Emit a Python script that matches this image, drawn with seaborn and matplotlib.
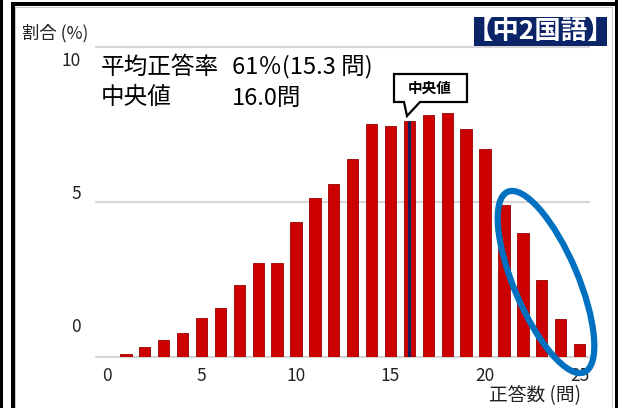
import matplotlib
matplotlib.use('Agg')
import matplotlib.pyplot as plt
import seaborn as sns
import pandas as pd
from matplotlib.patches import Rectangle, Ellipse, PathPatch
from matplotlib.path import Path

# ---- data ----
scores = list(range(1, 26))
pct = [0.10, 0.31, 0.55, 0.78, 1.26, 1.57, 2.31, 3.04, 3.04, 4.35,
       5.13, 5.58, 6.39, 7.52, 7.45, 7.62, 7.81, 7.86, 7.35, 6.70,
       4.90, 3.99, 2.48, 1.23, 0.41]
x_ticks = [0, 5, 10, 15, 20, 25]
y_ticks = [0, 5, 10]
median_score = 16
title = "【中2国語】"
mean_label, mean_value = "平均正答率", "61％(15.3 問)"
median_label, median_value = "中央値", "16.0問"
callout_label = "中央値"
y_axis_label = "割合 (%)"
x_axis_label = "正答数 (問)"

sns.set_theme(style='white')
plt.rcParams['font.family'] = ['Noto Sans CJK JP', 'DejaVu Sans']

W, H = 618, 408
fig = plt.figure(figsize=(W / 100, H / 100), dpi=100)
fig.patch.set_facecolor('white')
T = fig.dpi_scale_trans


def px(x, y):
    return (x / 100, (H - y) / 100)


# ---- axes ----
ax = fig.add_axes([96 / W, (H - 357) / H, (589 - 96) / W, (357 - 47) / H])
df = pd.DataFrame({'score': scores, 'pct': pct})
sns.barplot(data=df, x='score', y='pct', native_scale=True, width=0.6,
            color='#cc0000', saturation=1, edgecolor='#9a0000', linewidth=0.6,
            ax=ax, zorder=3)
ax.set_xlim(-0.58, 25.5)
ax.set_ylim(0, 10)
for s in ax.spines.values():
    s.set_visible(False)
ax.set_xlabel('')
ax.set_ylabel('')
ax.set_facecolor('white')

for v in y_ticks:
    ax.axhline(v, color='#d6d6d6', lw=1.6, zorder=1, clip_on=False)

ax.set_xticks(x_ticks)
ax.set_xticklabels([str(t) for t in x_ticks])
ax.tick_params(axis='x', length=0, pad=7, labelsize=12.5, labelcolor='#222222')
ax.set_yticks([])

# y tick labels (offset as in reference)
y_offsets = {10: -14, 5: 8, 0: 30}
for v in y_ticks:
    ax.annotate(str(v), xy=(0, v), xycoords=('axes fraction', 'data'),
                xytext=(-15, y_offsets[v]), textcoords='offset pixels',
                ha='right', va='center', fontsize=12.5, color='#222222')

# median line inside bar
mi = scores.index(median_score)
ax.vlines(median_score, 0, pct[mi], color='#10205a', lw=2.2, zorder=4)

# ---- texts ----
fig.text(*px(22, 33), y_axis_label, transform=T, ha='left', va='center',
         fontsize=12.5, color='#222222')
fig.text(*px(581, 396), x_axis_label, transform=T, ha='right', va='center',
         fontsize=13.5, color='#222222')

fig.text(*px(101, 67), mean_label, transform=T, ha='left', va='center', fontsize=17, color='black')
fig.text(*px(232, 67), mean_value, transform=T, ha='left', va='center', fontsize=17, color='black')
fig.text(*px(101, 98), median_label, transform=T, ha='left', va='center', fontsize=17, color='black')
fig.text(*px(232, 98), median_value, transform=T, ha='left', va='center', fontsize=17, color='black')

# title box
fig.patches.append(Rectangle(px(474, 46), 133 / 100, 29 / 100, transform=T,
                             facecolor='#0b2467', edgecolor='none', zorder=5))
fig.text(*px(540, 31), title, transform=T, ha='center', va='center',
         fontsize=19, fontweight='bold', color='white', zorder=6)

# callout bubble
verts = [px(394, 74), px(467, 74), px(467, 102), px(420, 102), px(407, 116),
         px(404, 102), px(394, 102), px(394, 74)]
codes = [Path.MOVETO] + [Path.LINETO] * 6 + [Path.CLOSEPOLY]
fig.patches.append(PathPatch(Path(verts, codes), transform=T, facecolor='white',
                             edgecolor='black', lw=1.6, zorder=5))
fig.text(*px(430, 88), callout_label, transform=T, ha='center', va='center',
         fontsize=10.5, fontweight='bold', color='black', zorder=6)

# highlight ellipse
fig.patches.append(Ellipse(px(546, 282), 1.96, 0.64, angle=113, transform=T,
                           facecolor='none', edgecolor='#0070c0', lw=4.5, zorder=7))

# frame
black = dict(transform=T, facecolor='black', edgecolor='none', zorder=8)
fig.patches.append(Rectangle(px(0, 408), 0.03, 4.08, **black))
fig.patches.append(Rectangle(px(11, 408), 0.04, 4.05, **black))
fig.patches.append(Rectangle(px(11, 6), 6.07, 0.04, **black))
fig.patches.append(Rectangle(px(615, 408), 0.03, 4.08, **black))
gray = dict(transform=T, facecolor='#c8c8c8', edgecolor='none', zorder=8)
fig.patches.append(Rectangle(px(15, 408), 0.01, 4.00, **gray))
fig.patches.append(Rectangle(px(612, 408), 0.01, 4.00, **gray))
fig.patches.append(Rectangle(px(15, 8), 5.98, 0.01, **gray))

fig.savefig('out.png', dpi=100)
